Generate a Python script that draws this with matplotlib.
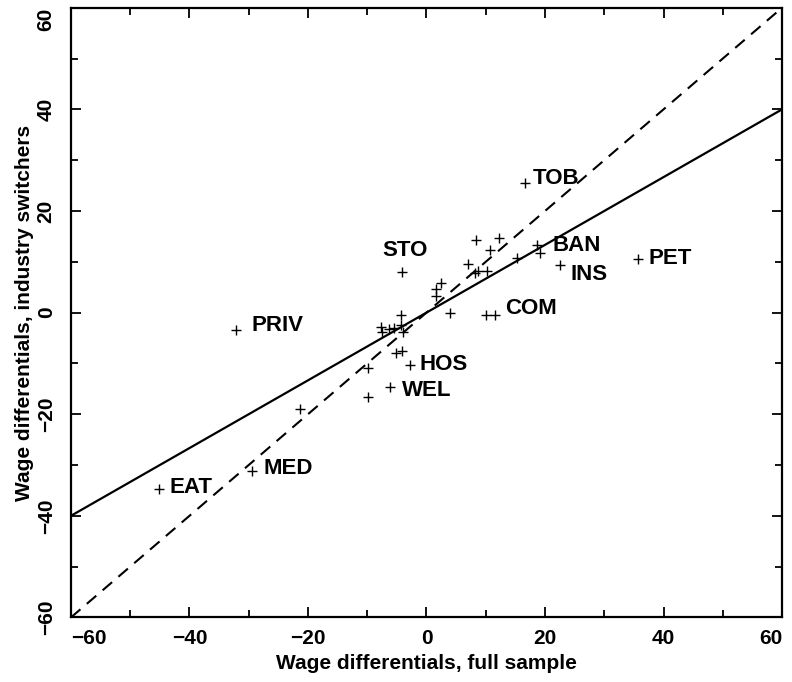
import numpy as np
import matplotlib.pyplot as plt

plt.rcParams['font.family'] = ['Liberation Sans', 'DejaVu Sans']

# labelled industries (full sample, industry switchers)
lab_names = ["TOB", "BAN", "INS", "PET", "STO", "COM",
             "HOS", "WEL", "PRIV", "MED", "EAT"]
lab_x = [16.6, 18.6, 22.5, 35.7, -4.2, 11.5, -2.8, -6.1, -32.1, -29.5, -45.1]
lab_y = [25.6, 13.3, 9.3, 10.6, 8.0, -0.4, -10.4, -14.6, -3.5, -31.2, -34.8]

# unlabelled industries
other_x = [19.1, 15.3, 8.4, 12.2, 10.8, 7.0, 8.7, 8.2, 10.2, 2.5, 1.6, 1.6, 4.0,
           10.0, -4.3, -7.7, -7.5, -6.3, -5.4, -4.3, -4.0, -5.2, -4.1, -9.9,
           -9.8, -21.3]
other_y = [11.7, 10.8, 14.3, 14.7, 12.3, 9.6, 8.2, 7.8, 8.2, 5.9, 4.6, 3.3, 0.0,
           -0.4, -0.5, -2.8, -3.8, -3.3, -3.1, -2.4, -3.8, -7.9, -7.5, -11.0,
           -16.6, -19.0]

# reference lines: 45-degree line and fitted line
line_x = [-60, 60]
diag_slope = 1.0
fit_slope = 2 / 3

# label offsets in pixels (dx, dy)
offsets = {
    "TOB": (8, 4), "BAN": (16, 0), "INS": (11, -9), "PET": (10, 0),
    "STO": (-19, 21), "COM": (10, 6), "HOS": (10, 1), "WEL": (12, -4),
    "PRIV": (15, 5), "MED": (12, 3), "EAT": (10, 2),
}

fig = plt.figure(figsize=(7.92, 6.82), dpi=100)
ax = fig.add_axes([0.0896, 0.0947, 0.8978, 0.8939])

lx = np.array(line_x, dtype=float)
ax.plot(lx, diag_slope * lx, color="black", lw=1.5, dashes=(6, 4))
ax.plot(lx, fit_slope * lx, color="black", lw=1.6)

ax.plot(other_x, other_y, "+", color="black", ms=7, mew=1.0)
ax.plot(lab_x, lab_y, "+", color="black", ms=7, mew=1.0)

for name, x, y in zip(lab_names, lab_x, lab_y):
    dx, dy = offsets[name]
    ax.annotate(name, (x, y), xytext=(dx, dy), textcoords="offset pixels",
                ha="left", va="center", fontsize=16, fontweight="bold")

ax.set_xlim(-60, 60)
ax.set_ylim(-60, 60)
ax.set_xticks(np.arange(-60, 61, 20))
ax.set_yticks(np.arange(-60, 61, 20))
ax.set_xticks(np.arange(-50, 60, 20), minor=True)
ax.set_yticks(np.arange(-50, 60, 20), minor=True)
ax.tick_params(which="both", direction="in", top=True, right=True, width=1.3)
ax.tick_params(which="major", length=7, labelsize=15, pad=8)
ax.tick_params(which="minor", length=5)
ax.tick_params(axis="y", which="major", pad=11)
for lbl in ax.get_xticklabels() + ax.get_yticklabels():
    lbl.set_fontweight("bold")
for lbl in ax.get_yticklabels():
    lbl.set_rotation(90)
    lbl.set_va("center")
# end labels kept inside the figure, as in the original
ax.get_yticklabels()[-1].set_va("top")
ax.get_xticklabels()[0].set_ha("left")
ax.get_xticklabels()[-1].set_ha("right")
for s in ax.spines.values():
    s.set_linewidth(1.6)

ax.set_xlabel("Wage differentials, full sample", fontsize=15, fontweight="bold",
              labelpad=5)
ax.set_ylabel("Wage differentials, industry switchers", fontsize=15,
              fontweight="bold", labelpad=2)

fig.savefig("out.png", dpi=100)
